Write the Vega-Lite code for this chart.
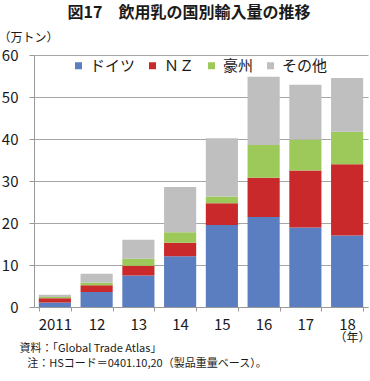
{
  "$schema": "https://vega.github.io/schema/vega-lite/v6.json",
  "width": 334,
  "height": 252,
  "autosize": {"type": "none"},
  "padding": {"left": 34, "top": 55, "right": 2, "bottom": 74},
  "background": "#ffffff",
  "config": {
    "font": "Noto Sans CJK JP",
    "view": {"stroke": null},
    "axis": {"labelColor": "#1a1a1a", "titleColor": "#1a1a1a", "domainColor": "#999999", "tickColor": "#999999", "gridColor": "#a6a6a6"}
  },
  "title": {
    "text": "図17　飲用乳の国別輸入量の推移",
    "fontSize": 16,
    "fontWeight": "bold",
    "anchor": "middle",
    "frame": "group",
    "dx": -12,
    "offset": 10,
    "color": "#1a1a1a"
  },
  "data": {
    "values": [
      {"year": "2011", "country": "ドイツ", "v": 1.1},
      {"year": "2011", "country": "ＮＺ", "v": 1.0},
      {"year": "2011", "country": "豪州", "v": 0.3},
      {"year": "2011", "country": "その他", "v": 0.5},
      {"year": "12", "country": "ドイツ", "v": 3.6},
      {"year": "12", "country": "ＮＺ", "v": 1.6},
      {"year": "12", "country": "豪州", "v": 0.6},
      {"year": "12", "country": "その他", "v": 2.1},
      {"year": "13", "country": "ドイツ", "v": 7.5},
      {"year": "13", "country": "ＮＺ", "v": 2.3},
      {"year": "13", "country": "豪州", "v": 1.7},
      {"year": "13", "country": "その他", "v": 4.5},
      {"year": "14", "country": "ドイツ", "v": 12.1},
      {"year": "14", "country": "ＮＺ", "v": 3.2},
      {"year": "14", "country": "豪州", "v": 2.5},
      {"year": "14", "country": "その他", "v": 10.8},
      {"year": "15", "country": "ドイツ", "v": 19.5},
      {"year": "15", "country": "ＮＺ", "v": 5.2},
      {"year": "15", "country": "豪州", "v": 1.6},
      {"year": "15", "country": "その他", "v": 13.9},
      {"year": "16", "country": "ドイツ", "v": 21.4},
      {"year": "16", "country": "ＮＺ", "v": 9.4},
      {"year": "16", "country": "豪州", "v": 7.8},
      {"year": "16", "country": "その他", "v": 16.2},
      {"year": "17", "country": "ドイツ", "v": 18.9},
      {"year": "17", "country": "ＮＺ", "v": 13.6},
      {"year": "17", "country": "豪州", "v": 7.4},
      {"year": "17", "country": "その他", "v": 13.0},
      {"year": "18", "country": "ドイツ", "v": 17.0},
      {"year": "18", "country": "ＮＺ", "v": 17.0},
      {"year": "18", "country": "豪州", "v": 7.7},
      {"year": "18", "country": "その他", "v": 12.8}
    ]
  },
  "transform": [
    {"calculate": "indexof(['ドイツ', 'ＮＺ', '豪州', 'その他'], datum.country)", "as": "stackOrder"}
  ],
  "layer": [
    {
      "mark": {"type": "bar"},
      "encoding": {
        "x": {
          "field": "year",
          "type": "nominal",
          "sort": null,
          "scale": {"paddingInner": 0.23, "paddingOuter": 0.115},
          "axis": {
            "labelAngle": 0,
            "labelFontSize": 15,
            "labelPadding": 6,
            "tickSize": 4,
            "tickBand": "extent",
            "title": "（年）",
            "titleFontSize": 12,
            "titleFontWeight": "normal",
            "titleX": 318,
            "titleY": 30,
            "titleAlign": "center",
            "titleBaseline": "middle"
          }
        },
        "y": {
          "field": "v",
          "type": "quantitative",
          "stack": "zero",
          "scale": {"domain": [0, 60]},
          "axis": {
            "values": [0, 10, 20, 30, 40, 50, 60],
            "labelFontSize": 15,
            "labelPadding": 11,
            "tickSize": 5,
            "grid": true,
            "title": "（万トン）",
            "titleFontSize": 12,
            "titleFontWeight": "normal",
            "titleAngle": 0,
            "titleAlign": "left",
            "titleBaseline": "middle",
            "titleX": -36,
            "titleY": -18
          }
        },
        "order": {"field": "stackOrder", "type": "quantitative", "sort": "ascending"},
        "color": {
          "field": "country",
          "type": "nominal",
          "scale": {
            "domain": ["ドイツ", "ＮＺ", "豪州", "その他"],
            "range": ["#5b7ec0", "#c9292b", "#9dc85a", "#bfbfbf"]
          },
          "legend": {
            "orient": "none",
            "legendX": 37,
            "legendY": 3,
            "direction": "horizontal",
            "title": null,
            "symbolType": "square",
            "symbolSize": 49,
            "symbolStrokeWidth": 0,
            "labelFontSize": 15,
            "labelOffset": 4,
            "labelColor": "#1a1a1a",
            "columnPadding": 9,
            "gridAlign": "each",
            "padding": 0
          }
        }
      }
    },
    {
      "mark": {"type": "rule", "opacity": 0},
      "encoding": {
        "y": {
          "datum": 0,
          "type": "quantitative",
          "axis": {
            "orient": "right",
            "labels": false,
            "ticks": false,
            "domain": false,
            "grid": false,
            "title": ["資料：「Global Trade Atlas」", "\u200b\u2002\u2009注：HSコード＝0401.10,20（製品重量ベース）。"],
            "titleFontSize": 11,
            "titleFontWeight": "normal",
            "titleAngle": 0,
            "titleAlign": "left",
            "titleBaseline": "top",
            "titleLineHeight": 15,
            "titleX": -349,
            "titleY": 287
          }
        }
      }
    }
  ],
  "resolve": {"axis": {"y": "independent"}}
}
